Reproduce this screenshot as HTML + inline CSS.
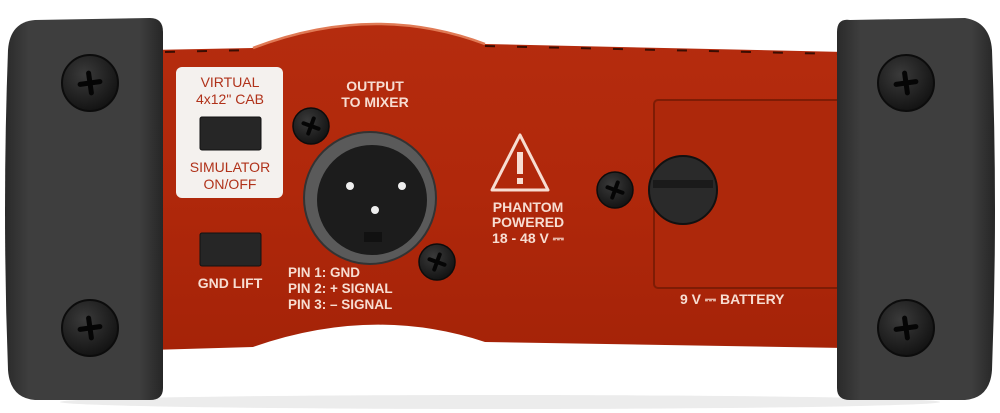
<!DOCTYPE html>
<html><head><style>
html,body{margin:0;padding:0;background:#fff;width:1000px;height:413px;overflow:hidden}
svg{display:block}
text{font-family:"Liberation Sans",Arial,sans-serif}
.b{font-weight:bold}
</style></head><body>
<svg width="1000" height="413" viewBox="0 0 1000 413">
<defs>
<linearGradient id="red" x1="0" y1="0" x2="0" y2="1">
<stop offset="0" stop-color="#b52c0e"/><stop offset="0.5" stop-color="#b0280b"/><stop offset="1" stop-color="#a52308"/>
</linearGradient>
<linearGradient id="cap" x1="0" y1="0" x2="1" y2="0">
<stop offset="0" stop-color="#2a2a2a"/><stop offset="0.15" stop-color="#3e3e3e"/><stop offset="0.85" stop-color="#3e3e3e"/><stop offset="1" stop-color="#262626"/>
</linearGradient>
<radialGradient id="scr" cx="0.4" cy="0.35" r="0.7">
<stop offset="0" stop-color="#3a3a3a"/><stop offset="1" stop-color="#111"/>
</radialGradient>
<g id="screw"><circle r="28" fill="url(#scr)" stroke="#0c0c0c" stroke-width="2"/>
<path d="M-10,0 L10,0 M0,-10 L0,10" stroke="#050505" stroke-width="5" stroke-linecap="round" transform="rotate(-8)"/></g>
<g id="sscrew"><circle r="18" fill="url(#scr)" stroke="#0c0c0c" stroke-width="1.5"/>
<path d="M-8,0 L8,0 M0,-8 L0,8" stroke="#050505" stroke-width="4" stroke-linecap="round" transform="rotate(20)"/></g>
</defs>
<ellipse cx="500" cy="402" rx="440" ry="7" fill="#ececec"/>
<path d="M150,50 L253,48 Q373,2 485,44 L845,52 L845,348 L485,342 Q373,305 253,347 L150,350 Z" fill="url(#red)"/>
<path d="M253,48 Q373,2 485,44" fill="none" stroke="#e07a55" stroke-width="2.5"/>
<path d="M165,52 L253,50 M485,46 L840,54" fill="none" stroke="#3a0d02" stroke-width="2" stroke-dasharray="10,22"/>
<rect x="176" y="67" width="107" height="131" rx="6" fill="#f4f1ee"/>
<text x="230" y="87" font-size="14" fill="#b0321a" text-anchor="middle">VIRTUAL</text>
<text x="230" y="104" font-size="14" fill="#b0321a" text-anchor="middle">4x12" CAB</text>
<rect x="200" y="117" width="61" height="33" rx="2" fill="#262626" stroke="#111"/>
<text x="230" y="172" font-size="14" fill="#b0321a" text-anchor="middle">SIMULATOR</text>
<text x="230" y="189" font-size="14" fill="#b0321a" text-anchor="middle">ON/OFF</text>
<rect x="200" y="233" width="61" height="33" rx="2" fill="#262626" stroke="#111"/>
<text class="b" x="230" y="288" font-size="14" fill="#f7ddd2" text-anchor="middle">GND LIFT</text>
<text class="b" x="375" y="91" font-size="14" fill="#f7ddd2" text-anchor="middle">OUTPUT</text>
<text class="b" x="375" y="107" font-size="14" fill="#f7ddd2" text-anchor="middle">TO MIXER</text>
<circle cx="370" cy="198" r="66" fill="#5a5a5a" stroke="#333" stroke-width="2"/>
<circle cx="372" cy="200" r="55" fill="#1c1c1c"/>
<rect x="364" y="232" width="18" height="10" fill="#111"/>
<circle cx="350" cy="186" r="4" fill="#eee"/><circle cx="402" cy="186" r="4" fill="#eee"/><circle cx="375" cy="210" r="4" fill="#eee"/>
<use href="#sscrew" x="311" y="126"/>
<use href="#sscrew" x="437" y="262"/>
<text class="b" x="288" y="277" font-size="13.5" fill="#f7ddd2">PIN 1: GND</text>
<text class="b" x="288" y="293" font-size="13.5" fill="#f7ddd2">PIN 2: + SIGNAL</text>
<text class="b" x="288" y="309" font-size="13.5" fill="#f7ddd2">PIN 3: – SIGNAL</text>
<path d="M520,135 L548,190 L492,190 Z" fill="none" stroke="#f7ddd2" stroke-width="3" stroke-linejoin="round"/>
<rect x="517" y="152" width="6" height="22" fill="#f7ddd2"/><rect x="517" y="178" width="6" height="6" fill="#f7ddd2"/>
<text class="b" x="528" y="212" font-size="14" fill="#f7ddd2" text-anchor="middle">PHANTOM</text>
<text class="b" x="528" y="227" font-size="14" fill="#f7ddd2" text-anchor="middle">POWERED</text>
<text class="b" x="528" y="243" font-size="14" fill="#f7ddd2" text-anchor="middle">18 - 48 V ⎓</text>
<rect x="654" y="100" width="190" height="188" rx="4" fill="#ad280b" stroke="#7e1c05" stroke-width="2"/>
<use href="#sscrew" x="615" y="190"/>
<circle cx="683" cy="190" r="34" fill="#2a2a2a" stroke="#111" stroke-width="2"/>
<rect x="653" y="180" width="60" height="8" fill="#1a1a1a"/>
<text class="b" x="680" y="304" font-size="14" fill="#f7ddd2">9 V ⎓ BATTERY</text>
<path d="M35,20 L150,18 Q163,18 163,32 L163,388 Q163,400 150,400 L35,400 Q10,398 8,370 Q2,210 8,50 Q10,22 35,20 Z" fill="url(#cap)"/>
<path d="M850,20 L965,18 Q990,22 992,50 Q998,210 992,370 Q990,398 965,400 L850,400 Q837,400 837,388 L837,32 Q837,18 850,20 Z" fill="url(#cap)"/>
<use href="#screw" x="90" y="83"/><use href="#screw" x="90" y="328"/>
<use href="#screw" x="906" y="83"/><use href="#screw" x="906" y="328"/>
</svg>
</body></html>
